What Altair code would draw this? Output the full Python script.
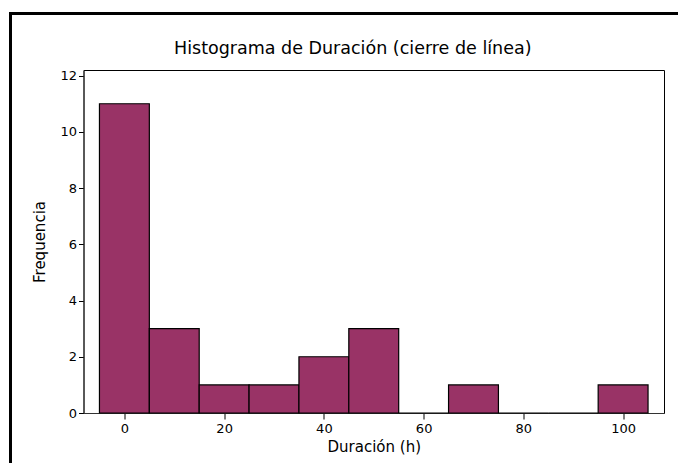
import altair as alt
import pandas as pd

bin_start = [-5, 5, 15, 25, 35, 45, 55, 65, 75, 85, 95]
bin_end = [5, 15, 25, 35, 45, 55, 65, 75, 85, 95, 105]
counts = [11, 3, 1, 1, 2, 3, 0, 1, 0, 0, 1]
x_ticks = [0, 20, 40, 60, 80, 100]
y_ticks = [0, 2, 4, 6, 8, 10, 12]

df = pd.DataFrame({"start": bin_start, "end": bin_end, "count": counts})

FONT = "DejaVu Sans"

bars = alt.Chart(df).mark_rect(
    color="#993366", stroke="black", strokeWidth=1.2
).encode(
    x=alt.X("start:Q", scale=alt.Scale(domain=[-8.2, 108.2], nice=False, zero=False),
            axis=alt.Axis(values=x_ticks, title="Duración (h)", grid=False,
                          tickSize=6, tickColor="black", domainColor="#333333",
                          labelFontSize=13, titleFontSize=15, labelColor="black",
                          titleColor="black", titleFontWeight="normal",
                          labelFont=FONT, titleFont=FONT, labelPadding=3, titlePadding=4)),
    x2="end:Q",
    y=alt.Y("count:Q", scale=alt.Scale(domain=[0, 12.2], nice=False),
            axis=alt.Axis(values=y_ticks, title="Frequencia", grid=False,
                          tickSize=5, tickColor="black", domainColor="#333333",
                          labelFontSize=13, titleFontSize=15, labelColor="black",
                          titleColor="black", titleFontWeight="normal",
                          labelFont=FONT, titleFont=FONT, labelPadding=2, titlePadding=12)),
    y2=alt.datum(0),
)

frame = alt.Chart(pd.DataFrame({"k": [0]})).mark_rect(
    fill=None, stroke="black", strokeWidth=3
).encode(
    x=alt.value(-73), x2=alt.value(700), y=alt.value(-56.5), y2=alt.value(500)
)

chart = alt.layer(frame, bars).properties(
    width=580.5, height=343,
    autosize=alt.AutoSizeParams(type="none"),
    padding={"left": 75.5, "top": 62, "right": 14, "bottom": 50},
    title=alt.TitleParams("Histograma de Duración (cierre de línea)", fontSize=17.5,
                          font=FONT, fontWeight="normal", color="black",
                          anchor="middle", frame="group", dx=-21, offset=-45),
).configure(background="white").configure_view(stroke="black", strokeWidth=1)

chart.save("out.html", embed_options={"renderer": "svg", "actions": False})
